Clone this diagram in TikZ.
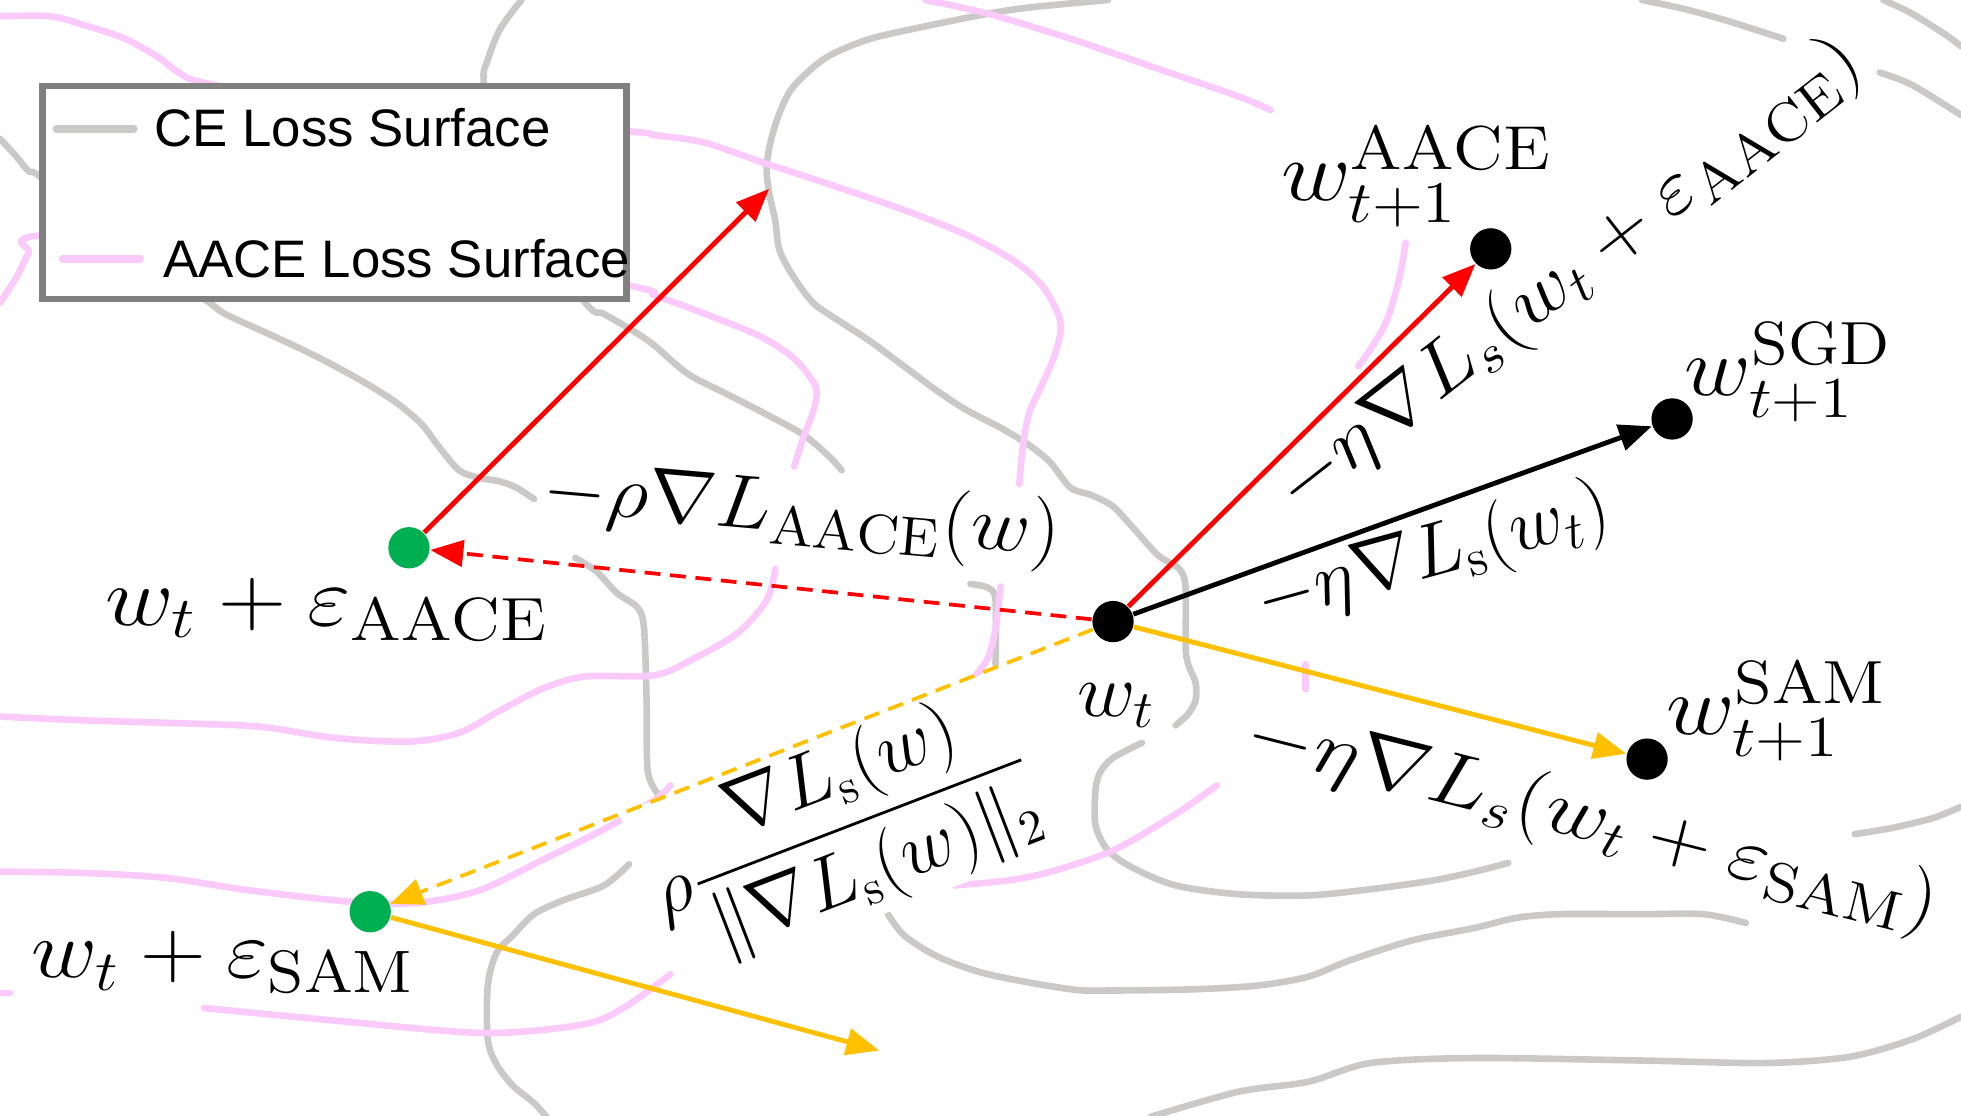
\documentclass[tikz,border=0pt]{standalone}
\usepackage{amsmath}
\usepackage{amssymb}
\usepackage{fontspec}
\usetikzlibrary{arrows.meta}
\newfontfamily\legendfont{Liberation Sans}
\definecolor{cegray}{RGB}{203,200,200}
\definecolor{aacepink}{RGB}{250,202,250}
\definecolor{samgold}{RGB}{255,192,0}
\definecolor{ptgreen}{RGB}{0,176,80}
\definecolor{boxgray}{RGB}{128,128,128}

\begin{document}
\begin{tikzpicture}[x=0.01cm,y=-0.01cm,
		celine/.style={cegray,line width=1.5pt,line cap=round,line join=round},
		aaceline/.style={aacepink,line width=1.5pt,line cap=round,line join=round},
		pt/.style={circle,fill=black,inner sep=0pt,minimum size=0.33cm},
		gpt/.style={pt,fill=ptgreen},
		lab/.style={font=\fontsize{18}{22}\selectfont,fill=white,inner sep=1pt},
		upd/.style={line width=1.1pt,-{Triangle[length=7.5pt,width=6pt]}},
		pert/.style={upd,line width=0.85pt,dash pattern=on 3.6pt off 2.2pt}]
				\useasboundingbox (0,0) rectangle (1568,892);
				\coordinate (aacetip) at (615,151);
				\coordinate (samtip) at (703,840);
				
				\draw[celine] plot[smooth] coordinates {(0,111) (13,125) (23,137) (33,142) (95,195) (163,239) (180,251) (217,268) (253,285) (290,305) (317,322) (337,339) (350,356) (367,376) (383,382) (400,385) (413,390) (427,399)};
				\draw[celine] plot[smooth] coordinates {(460,446) (477,457) (493,474) (510,486) (515,503) (517,560) (518,617) (527,636)};
				\draw[celine] plot[smooth] coordinates {(503,691) (483,708) (450,720) (427,731) (410,748) (397,762) (390,788) (390,831) (397,851) (410,868) (427,882) (437,893)};
				\draw[celine] plot[smooth] coordinates {(886,0) (823,6) (790,11) (740,21) (696,31) (666,43) (650,54) (633,71) (623,91) (616,114) (613,134) (615,154) (620,177) (623,199) (633,219) (650,242) (670,256) (696,273) (723,293) (750,313) (773,328) (800,342) (823,356) (840,370) (856,390) (873,396) (890,405) (906,422) (926,444) (943,455) (948,470) (948,517) (950,531) (956,546) (956,560) (950,571) (940,580)};
				\draw[celine] plot[smooth] coordinates {(913,594) (890,606) (880,617) (876,631) (876,660) (886,680) (906,694) (940,708) (990,715) (1046,716) (1096,711) (1146,704) (1179,697) (1206,690)};
				\draw[celine] plot[smooth] coordinates {(1483,667) (1513,662) (1546,654) (1568,645)};
				\draw[celine] plot[smooth] coordinates {(417,0) (400,23) (390,48) (387,68) (400,150) (467,241) (483,251) (507,265) (523,276) (550,299) (583,316) (616,333) (643,348) (663,365) (673,376)};
				\draw[celine] plot[smooth] coordinates {(776,467) (790,470) (796,480) (796,531)};
				\draw[celine] plot[smooth] coordinates {(710,731) (723,748) (750,765) (790,779) (856,791) (890,792) (956,791) (1006,788) (1046,781) (1079,768) (1129,752) (1179,742) (1212,734) (1246,731) (1312,731) (1362,731) (1396,738)};
				\draw[celine] plot[smooth] coordinates {(920,893) (990,873) (1046,865) (1096,850) (1179,846) (1312,848) (1412,850) (1479,845) (1529,831) (1568,813)};
				\draw[celine] plot[smooth] coordinates {(1313,0) (1346,7) (1379,16) (1426,31)};
				\draw[celine] plot[smooth] coordinates {(1503,58) (1529,68) (1568,92)};
				\draw[celine] plot[smooth] coordinates {(1506,0) (1529,11) (1556,28) (1568,37)};
				
				\draw[aaceline] plot[smooth] coordinates {(0,13) (40,13) (67,20) (100,31) (127,46) (143,58) (167,67) (300,90) (502,105) (523,108) (563,114) (613,131) (656,145) (723,168) (773,188) (810,208) (833,228) (846,251) (848,265) (843,285) (833,308) (823,330) (818,356) (815,387)};
				\draw[aaceline] plot[smooth] coordinates {(800,469) (796,503) (790,526) (780,540)};
				\draw[aaceline] plot[smooth] coordinates {(0,242) (13,222) (23,202) (33,188) (250,175) (502,228) (523,236) (556,248) (606,268) (633,285) (648,302) (653,313) (650,330) (643,348) (635,373)};
				\draw[aaceline] plot[smooth] coordinates {(620,455) (613,480) (590,506) (556,526) (523,540) (467,541) (433,551) (400,568) (367,586) (327,593) (267,590) (207,581) (133,578) (67,576) (0,573)};
				\draw[aaceline] plot[smooth] coordinates {(0,697) (67,698) (133,702) (200,712) (280,721) (333,722) (383,712) (433,688) (483,663) (523,640) (536,628)};
				\draw[aaceline] plot[smooth] coordinates {(740,0) (790,11) (856,31) (923,54) (990,77) (1016,88)};
				\draw[aaceline] plot[smooth] coordinates {(973,628) (940,651) (890,680) (840,697) (806,704) (763,708)};
				\draw[aaceline] (0,794) -- (8,794);
				\draw[aaceline] plot[smooth] coordinates {(163,806) (267,816) (387,826) (467,819) (500,805) (536,779)};
				\draw[aaceline] plot[smooth] coordinates {(1124,194) (1119,222) (1109,256) (1096,279) (1086,293)};
				\draw[aaceline] (1044,531) -- (1044,551);
				
				\draw[boxgray,line width=1.4pt,fill=white] (34,69) rectangle (501,239);
				\draw[celine,line width=1.7pt] (45,103) -- (107,103);
				\draw[aaceline,line width=1.7pt] (50,207) -- (112,207);
				\node[anchor=base west,inner sep=0pt,font=\legendfont\fontsize{12}{14}\selectfont] (cetext) at (123,117) {CE Loss Surface};
				\node[anchor=base west,inner sep=0pt,font=\legendfont\fontsize{12}{14}\selectfont] (aacetext) at (130,222) {AACE Loss Surface};
				
				\node[lab,rotate=-5,xscale=1.08] (rholab) at (641,411) {$-\rho\nabla L_{\mathrm{AACE}}(w)$};
				\node[lab,anchor=base west,scale=1.1,xscale=1.13] (paacelab) at (79,500) {$w_t+\varepsilon_{\mathrm{AACE}}$};
				\node[lab,anchor=base west,scale=1.08,xscale=1.11] (psamlab) at (20,782) {$w_t+\varepsilon_{\mathrm{SAM}}$};
				\node[lab,anchor=base west,xscale=1.06] (wtlab) at (857,573) {$w_t$};
				\node[lab,anchor=base west,scale=1.12,xscale=1.13] (waacelab) at (1019,160) {$w_{t+1}^{\mathrm{AACE}}$};
				\node[lab,anchor=base west,scale=1.1,xscale=1.1] (wsgdlab) at (1342,316) {$w_{t+1}^{\mathrm{SGD}}$};
				\node[lab,anchor=base west,scale=1.1,xscale=1.13] (wsamlab) at (1327,587) {$w_{t+1}^{\mathrm{SAM}}$};
				\node[lab,rotate=38,xscale=1.11] (aacesteplab) at (1255,221) {$-\eta\nabla L_s(w_t+\varepsilon_{\mathrm{AACE}})$};
				\node[lab,rotate=15.4,font=\fontsize{17}{21}\selectfont] (sgdsteplab) at (1146,445) {$-\eta\nabla L_{\mathrm{s}}(w_t)$};
				\node[lab,rotate=-14.2,xscale=1.16] (samsteplab) at (1273,657) {$-\eta\nabla L_s(w_t+\varepsilon_{\mathrm{SAM}})$};
				\node[lab,rotate=21,font=\fontsize{16}{20}\selectfont] (fraclab) at (673,663) {$\rho\dfrac{\nabla L_{\mathrm{s}}(w)}{\|\nabla L_{\mathrm{s}}(w)\|_2}$};
				
				\node[pt] (wt) at (890,497) {};
				\node[pt] (waace) at (1192,199) {};
				\node[pt] (wsgd) at (1337,335) {};
				\node[pt] (wsam) at (1317,607) {};
				\node[gpt] (gaace) at (327,438) {};
				\node[gpt] (gsam) at (296,729) {};
				
				\draw[upd,red] (gaace) -- (aacetip);
				\draw[pert,red] (wt) -- (gaace);
				\draw[upd,red] (wt) -- (waace);
				\draw[upd] (wt) -- (wsgd);
				\draw[pert,samgold] (wt) -- (gsam);
				\draw[upd,samgold] (wt) -- (wsam);
				\draw[upd,samgold] (gsam) -- (samtip);
			\end{tikzpicture}
\end{document}
